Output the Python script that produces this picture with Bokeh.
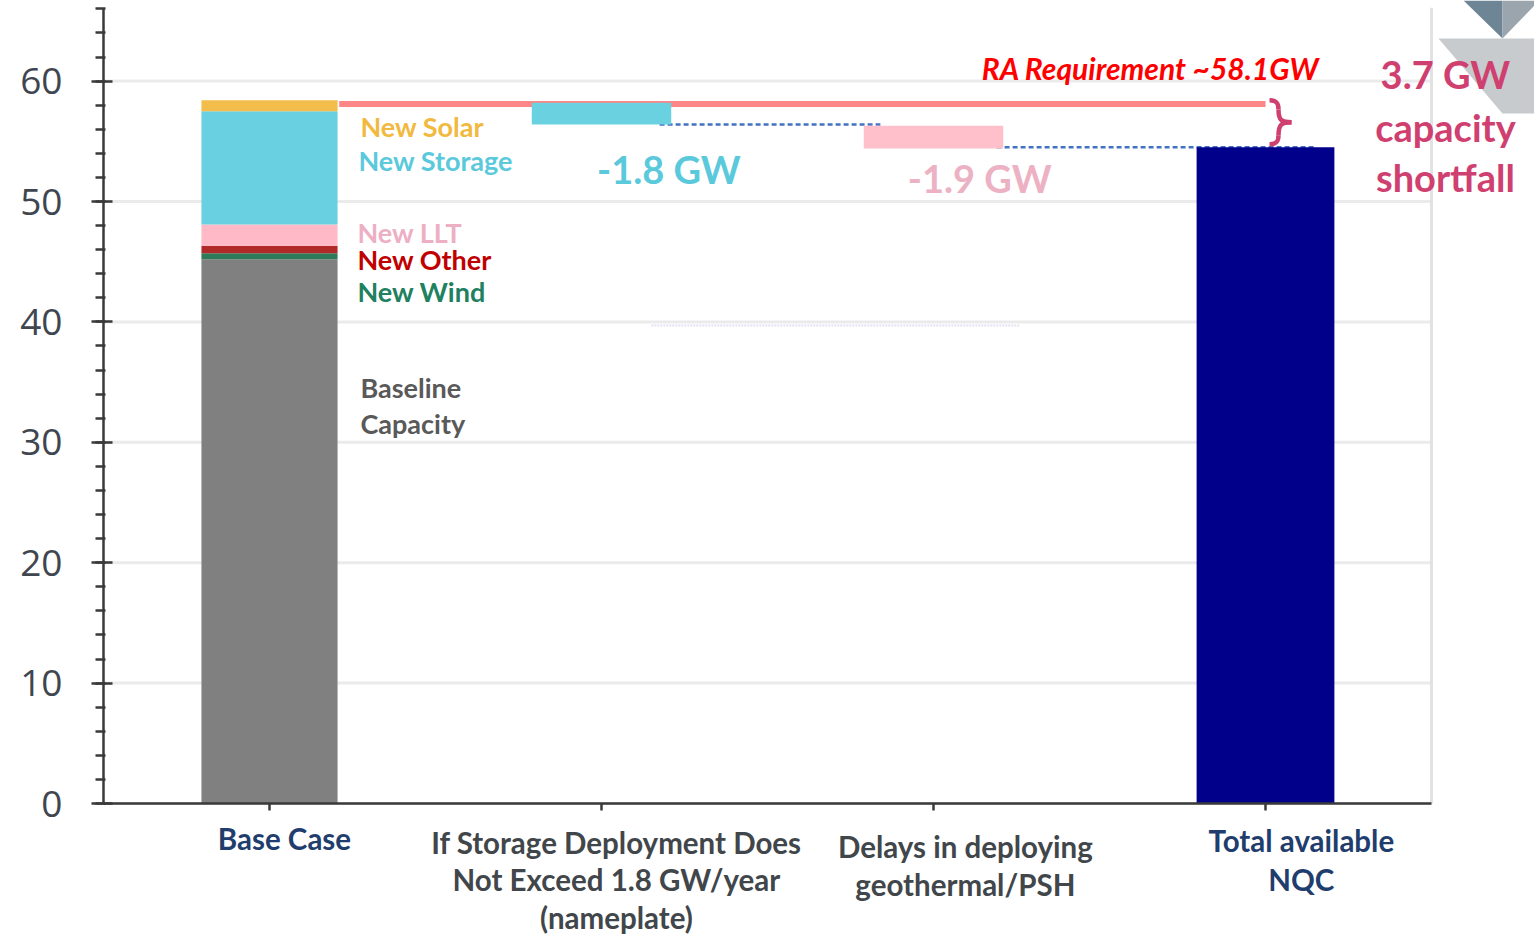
from bokeh.plotting import figure
from bokeh.models import (Range1d, SingleIntervalTicker, Label, PolyAnnotation, ColumnDataSource)
from bokeh.embed import file_html
from bokeh.resources import INLINE

# ---------------- data ----------------
categories = [
    "Base Case",
    "If Storage Deployment Does\nNot Exceed 1.8 GW/year\n(nameplate)",
    "Delays in deploying\ngeothermal/PSH",
    "Total available\nNQC",
]
category_colors = ["#1F3D6D", "#41464B", "#41464B", "#1F3D6D"]

base_components = ["Baseline Capacity", "New Wind", "New Other", "New LLT", "New Storage", "New Solar"]
base_values = [45.2, 0.5, 0.6, 1.8, 9.4, 0.9]
base_colors = ["#808080", "#2F7A5A", "#B02A2A", "#FFB9C7", "#68D0E0", "#F2BD4B"]

step_labels = ["-1.8 GW", "-1.9 GW"]
step_tops = [58.2, 56.3]
step_deltas = [-1.8, -1.9]
step_colors = ["#6AD1E0", "#FFC0CB"]
step_text_colors = ["#5BC9DC", "#EDB1C4"]

total_nqc = 54.5
ra_requirement = 58.1
shortfall_text = ["3.7 GW", "capacity", "shortfall"]

y_ticks = [0, 10, 20, 30, 40, 50, 60]
y_axis_max = 66

# ---------------- layout constants (pixels) ----------------
W, H = 1534, 934
FRAME_LEFT = 103
PX_PER_CAT = 332.0
PX_PER_UNIT = 12.04
ZERO_PX = 803
bar_width = 0.41
n = len(categories)

x_end = (W - FRAME_LEFT) / PX_PER_CAT
y_start = -(H - ZERO_PX) / PX_PER_UNIT
y_end = ZERO_PX / PX_PER_UNIT

p = figure(width=W, height=H, output_backend="svg", toolbar_location=None,
           x_range=Range1d(0, x_end), y_range=Range1d(y_start, y_end),
           x_axis_location=None, y_axis_location="left",
           min_border_left=FRAME_LEFT, min_border_right=0, min_border_top=0, min_border_bottom=0)
p.outline_line_color = None
p.background_fill_color = "white"
p.border_fill_color = "white"
p.xgrid.visible = False
p.ygrid.visible = False

AX = "#3A3A3A"
yax = p.yaxis[0]
yax.bounds = (0, y_axis_max)
yax.ticker = SingleIntervalTicker(interval=10, num_minor_ticks=5)
yax.axis_line_color = AX
yax.axis_line_width = 2.5
yax.major_tick_line_color = AX
yax.major_tick_line_width = 2.5
yax.major_tick_in = 9
yax.major_tick_out = 12
yax.minor_tick_line_color = AX
yax.minor_tick_line_width = 2.5
yax.minor_tick_in = 2
yax.minor_tick_out = 8
yax.major_label_text_font = "Open Sans"
yax.major_label_text_font_size = "37px"
yax.major_label_text_color = "#404650"
yax.major_label_standoff = 29

centers = [i + 0.5 for i in range(n)]

# horizontal gridlines (only across the plotting area)
p.segment(x0=[0] * len(y_ticks), y0=y_ticks, x1=[n] * len(y_ticks), y1=y_ticks,
          line_color="#EBEBEB", line_width=3)
# right frame border
p.segment(x0=[n], y0=[0], x1=[n], y1=[y_axis_max + 0.1], line_color="#E2E2E2", line_width=3)

# faint dotted artifact line
p.segment(x0=[1.65], y0=[39.7], x1=[2.76], y1=[39.7], line_color="#E2E2F4", line_width=2, line_dash="2 1")

# RA requirement line
p.segment(x0=[centers[0] + bar_width / 2 + 0.005], y0=[ra_requirement],
          x1=[centers[3]], y1=[ra_requirement], line_color="#FF8686", line_width=6)

# connectors (dashed)
conn_y = [step_tops[0] + step_deltas[0], total_nqc]
p.segment(x0=[centers[1] + 0.175, centers[2] + 0.19], y0=conn_y,
          x1=[centers[2] - 0.16, centers[3] + 0.145], y1=conn_y,
          line_color="#4472C4", line_width=2.5, line_dash="5 3")

# stacked base case bar
bottom = 0.0
for name, val, col in zip(base_components, base_values, base_colors):
    p.vbar(x=[centers[0]], bottom=[bottom], top=[bottom + val], width=bar_width,
           fill_color=col, line_color=None)
    bottom += val

# step bars
src = ColumnDataSource(dict(
    x=centers[1:3],
    top=step_tops,
    bottom=[t + d for t, d in zip(step_tops, step_deltas)],
    color=step_colors,
))
p.vbar(x="x", top="top", bottom="bottom", width=bar_width + 0.01, fill_color="color",
       line_color=None, source=src)

# total bar
p.vbar(x=[centers[3]], bottom=[0], top=[total_nqc], width=bar_width + 0.005,
       fill_color="#00008B", line_color=None)

# x axis line and ticks at the category centres
p.segment(x0=[0], y0=[0], x1=[n], y1=[0], line_color=AX, line_width=2.5)
tick_len = 7 / PX_PER_UNIT
p.segment(x0=centers, y0=[0] * n, x1=centers, y1=[-tick_len] * n, line_color=AX, line_width=2.5)

# shortfall brace between RA requirement and total NQC
b_top = ra_requirement + 0.3
b_bot = total_nqc + 0.25
b_mid = (b_top + b_bot) / 2
hook = 0.75
xe = centers[3] + 4 / PX_PER_CAT     # brace ends
xs = centers[3] + 13 / PX_PER_CAT    # brace stem
xt = centers[3] + 26 / PX_PER_CAT    # brace tip
p.bezier(
    x0=[xe, xs, xt, xs], y0=[b_top, b_top - hook, b_mid, b_bot + hook],
    x1=[xs, xt, xs, xe], y1=[b_top - hook, b_mid, b_bot + hook, b_bot],
    cx0=[xs - 0.005, xs, xs + 0.01, xs], cy0=[b_top, b_mid + 0.15, b_mid, b_bot + 0.25],
    cx1=[xs, xs + 0.01, xs, xs - 0.005], cy1=[b_top - 0.25, b_mid, b_mid - 0.15, b_bot],
    line_color="#CF3F6F", line_width=4.5)

# decorative corner shapes (slide template)
def px2d(xi, yi):
    return ((xi - FRAME_LEFT) / PX_PER_CAT, (ZERO_PX - yi) / PX_PER_UNIT)

for pts, col in [
    ([(1463, 0), (1502, 0), (1502, 38)], "#6E8596"),
    ([(1502, 0), (1534, 0), (1534, 5), (1502, 38)], "#9AA5AD"),
    ([(1438, 38), (1534, 38), (1534, 113), (1502, 113)], "#C7CBCE"),
]:
    d = [px2d(a, b) for a, b in pts]
    p.add_layout(PolyAnnotation(xs=[q[0] for q in d], ys=[q[1] for q in d],
                                fill_color=col, fill_alpha=1, line_color=None))

FONT = "Lato"

# component labels
comp_label_pos = {
    "New Solar": (0.774, 56.2, "#F2B940"),
    "New Storage": (0.768, 53.37, "#5BC9DC"),
    "New LLT": (0.765, 47.46, "#EDAFC4"),
    "New Other": (0.765, 45.22, "#C00000"),
    "New Wind": (0.765, 42.56, "#20805F"),
}
for name in base_components[::-1]:
    if name in comp_label_pos:
        x, y, c = comp_label_pos[name]
        p.add_layout(Label(x=x, y=y, text=name, text_font=FONT, text_font_style="bold",
                           text_font_size="27px", text_color=c, text_baseline="middle",
                           text_align="left"))
p.add_layout(Label(x=0.774, y=33.04, text="Baseline\nCapacity", text_font=FONT,
                   text_font_style="bold", text_font_size="27px", text_color="#595959",
                   text_baseline="middle", text_align="left", text_line_height=1.08))

# step value labels
for (x, y), t, c in zip([(1.703, 52.7), (2.639, 51.95)], step_labels, step_text_colors):
    p.add_layout(Label(x=x, y=y, text=t, text_font=FONT, text_font_style="bold",
                       text_font_size="38px", text_color=c, text_baseline="middle",
                       text_align="center"))

# RA requirement label
p.add_layout(Label(x=3.154, y=61.1, text="RA Requirement ~%.1fGW" % ra_requirement,
                   text_font=FONT, text_font_style="bold italic", text_font_size="30px",
                   text_color="#FF0000", text_baseline="middle", text_align="center"))

# shortfall text
for t, y in zip(shortfall_text, [60.6, 56.19, 52.04]):
    p.add_layout(Label(x=4.042, y=y, text=t, text_font=FONT, text_font_style="bold",
                       text_font_size="38px", text_color="#CF3F6F", text_baseline="middle",
                       text_align="center"))

# category labels under the axis
cat_label_pos = [(0.045, -2.91), (0.045, -6.35), (0.096, -5.15), (0.108, -4.69)]
cat_line_h = [1.08, 1.07, 1.09, 1.1]
for c, cat, col, (dx, y), lh in zip(centers, categories, category_colors, cat_label_pos, cat_line_h):
    p.add_layout(Label(x=c + dx, y=y, text=cat, text_font=FONT, text_font_style="bold",
                       text_font_size="29.5px", text_color=col, text_baseline="middle",
                       text_align="center", text_line_height=lh))

open("out.html", "w").write(file_html(p, INLINE))
